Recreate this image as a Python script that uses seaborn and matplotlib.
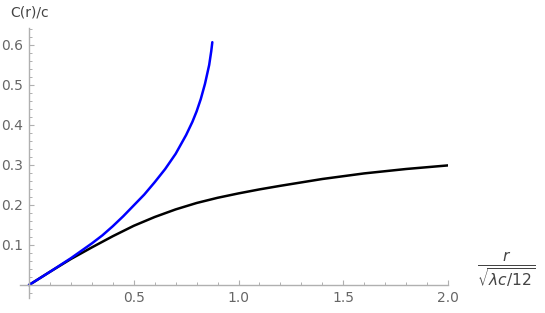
import numpy as np
import pandas as pd
import matplotlib
matplotlib.use("Agg")
import matplotlib.pyplot as plt
from matplotlib.ticker import MultipleLocator, FixedLocator
import seaborn as sns

# values
blue_x = [0.0, 0.1, 0.2, 0.3, 0.35, 0.4, 0.45, 0.5, 0.55, 0.6, 0.65, 0.7,
          0.75, 0.78, 0.8, 0.82, 0.84, 0.86, 0.87, 0.875]
blue_y = [0.0, 0.033, 0.067, 0.104, 0.124, 0.147, 0.172, 0.199, 0.226, 0.257,
          0.290, 0.328, 0.375, 0.408, 0.434, 0.465, 0.503, 0.550, 0.585, 0.607]

black_x = [0.0, 0.1, 0.2, 0.3, 0.4, 0.5, 0.6, 0.7, 0.8, 0.9, 1.0, 1.1, 1.2,
           1.4, 1.6, 1.8, 2.0]
black_y = [0.0, 0.033, 0.065, 0.094, 0.122, 0.148, 0.170, 0.189, 0.205, 0.218,
           0.229, 0.239, 0.248, 0.265, 0.279, 0.290, 0.299]

x_major = [0.5, 1.0, 1.5, 2.0]
y_major = [0.1, 0.2, 0.3, 0.4, 0.5, 0.6]

blue_df = pd.DataFrame({"x": blue_x, "y": blue_y})
black_df = pd.DataFrame({"x": black_x, "y": black_y})

sns.set_style("white")
plt.rcParams["font.family"] = ["DejaVu Sans"]

fig = plt.figure(figsize=(5.45, 3.13), dpi=100)
ax = fig.add_axes([20 / 545, 15 / 313, 428 / 545, 270 / 313])

sns.lineplot(data=black_df, x="x", y="y", ax=ax, color="black", lw=1.8,
             sort=False, estimator=None)
sns.lineplot(data=blue_df, x="x", y="y", ax=ax, color="#0000ff", lw=1.8,
             sort=False, estimator=None)

ax.set_xlim(-0.043, 2.0)
ax.set_ylim(-0.0325, 0.6425)

# Mathematica-like axes through the origin
for s in ["top", "right"]:
    ax.spines[s].set_visible(False)
ax.spines["left"].set_position(("data", 0))
ax.spines["bottom"].set_position(("data", 0))
for s in ["left", "bottom"]:
    ax.spines[s].set_color("#b0b0b0")
    ax.spines[s].set_linewidth(1.0)

ax.xaxis.set_major_locator(FixedLocator(x_major))
ax.yaxis.set_major_locator(FixedLocator(y_major))
ax.xaxis.set_minor_locator(MultipleLocator(0.1))
ax.yaxis.set_minor_locator(MultipleLocator(0.02))
ax.set_xticklabels(["0.5", "1.0", "1.5", "2.0"])
ax.set_yticklabels(["0.1", "0.2", "0.3", "0.4", "0.5", "0.6"])
ax.tick_params(which="both", bottom=True, left=True, top=False, right=False)
ax.tick_params(which="major", direction="in", length=3.5, width=0.8,
               color="#b0b0b0", labelcolor="#666666", labelsize=10, pad=4)
ax.tick_params(which="minor", direction="in", length=2.2, width=0.7,
               color="#b0b0b0")
ax.set_xlabel("")
ax.set_ylabel("")

fig.text(10 / 545, 1 - 12 / 313, "C(r)/c", ha="left", va="center",
         fontsize=10, color="#444444")
fig.text(506 / 545, 1 - 270 / 313, r"$\frac{r}{\sqrt{\lambda c/12}}$",
         ha="center", va="center", fontsize=16, color="#444444")

fig.savefig("out.png", dpi=100)
